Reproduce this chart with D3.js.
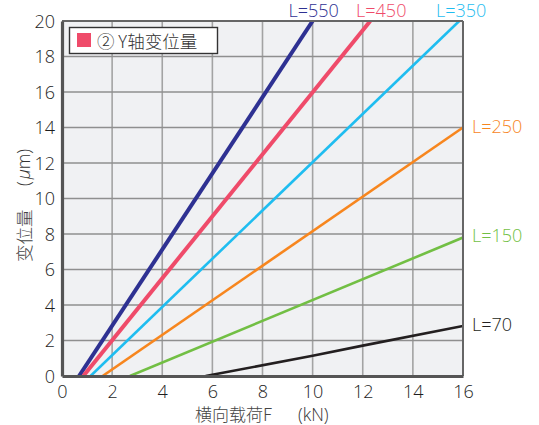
<!DOCTYPE html>
<html>
<head>
<meta charset="utf-8">
<script src="https://cdn.jsdelivr.net/npm/d3@7"></script>
<style>
  html, body { margin: 0; padding: 0; background: #fff; }
  svg { display: block; }
  text { font-family: "Noto Sans CJK SC", "Noto Sans", sans-serif; }
  .num { font-family: "Open Sans", "Noto Sans", sans-serif; font-weight: 300; }
</style>
</head>
<body>
<svg id="chart" width="539" height="425"></svg>
<script>
// Tick values
const xTicks = [0, 2, 4, 6, 8, 10, 12, 14, 16];
const yTicks = [0, 2, 4, 6, 8, 10, 12, 14, 16, 18, 20];

// Series: load F (kN) vs displacement (μm)
const seriesNames = ["L=550", "L=450", "L=350", "L=250", "L=150", "L=70"];
const seriesColors = ["#2e3192", "#ef4b6a", "#1fbdf0", "#f7861e", "#72bf44", "#231f20"];
const seriesWidths = [4, 4, 2.6, 2.6, 2.6, 2.6];
const s550 = [[0.68, 0], [10.0, 20]];
const s450 = [[0.85, 0], [12.3, 20]];
const s350 = [[1.14, 0], [15.85, 20]];
const s250 = [[1.62, 0], [16, 14]];
const s150 = [[2.71, 0], [16, 7.8]];
const s70 = [[5.73, 0], [10, 1.14], [12, 1.71], [16, 2.82]];
const seriesData = [s550, s450, s350, s250, s150, s70];

const legendLabel = "② Y轴变位量";
const xTitle = ["横向载荷F", "(kN)"];
const yTitle = ["变位量", "(", "μ", "m)"];

const svg = d3.select("#chart");
const pL = 62, pR = 463, pT = 21, pB = 376;

const x = d3.scaleLinear().domain([0, 16]).range([pL, pR]);
const y = d3.scaleLinear().domain([0, 20]).range([pB, pT]);

// Plot background
svg.append("rect").attr("x", pL).attr("y", pT)
  .attr("width", pR - pL).attr("height", pB - pT)
  .attr("fill", "#f0f1f3");

// Grid
const grid = svg.append("g");
grid.selectAll(".vg").data(xTicks.slice(1, -1)).join("line")
  .attr("x1", d => x(d)).attr("x2", d => x(d))
  .attr("y1", pT).attr("y2", pB)
  .attr("stroke", "#a3a3a3").attr("stroke-width", 1.6);
grid.selectAll(".hg").data(yTicks.slice(1, -1)).join("line")
  .attr("x1", pL).attr("x2", pR)
  .attr("y1", d => y(d)).attr("y2", d => y(d))
  .attr("stroke", "#8f8f8f").attr("stroke-width", 1.4);

// Series lines
const line = d3.line().x(d => x(d[0])).y(d => y(d[1]));
svg.append("defs").append("clipPath").attr("id", "clip")
  .append("rect").attr("x", pL).attr("y", pT)
  .attr("width", pR - pL).attr("height", pB - pT);
const lines = svg.append("g").attr("clip-path", "url(#clip)");
seriesData.forEach((s, i) => {
  lines.append("path").datum(s)
    .attr("d", line)
    .attr("fill", "none")
    .attr("stroke", seriesColors[i])
    .attr("stroke-width", seriesWidths[i]);
});

// Frame: top/right lighter, left/bottom heavy
svg.append("line").attr("x1", pL).attr("x2", pR).attr("y1", pT).attr("y2", pT)
  .attr("stroke", "#666").attr("stroke-width", 2);
svg.append("line").attr("x1", pR).attr("x2", pR).attr("y1", pT).attr("y2", pB)
  .attr("stroke", "#666").attr("stroke-width", 2);

// Axes
const xAxis = svg.append("g").attr("transform", `translate(0,${pB})`)
  .call(d3.axisBottom(x).tickValues(xTicks).tickSize(0).tickPadding(9).tickFormat(d3.format("d")));
const yAxis = svg.append("g").attr("transform", `translate(${pL},0)`)
  .call(d3.axisLeft(y).tickValues(yTicks).tickSize(0).tickPadding(7).tickFormat(d3.format("d")));
[xAxis, yAxis].forEach(a => {
  a.select(".domain").attr("stroke", "#555").attr("stroke-width", 3.2);
  a.selectAll("text").attr("class", "num").attr("fill", "#1e1e1e").attr("font-size", 18)
    .attr("font-family", null);
});
yAxis.selectAll("text").attr("dy", "0.36em");
xAxis.selectAll("text").attr("dy", "0.71em");

// Series labels, placed next to each line's end
const labelOffsets = [
  { anchor: "middle", dx: 1, dy: -4 },
  { anchor: "middle", dx: 11, dy: -4 },
  { anchor: "middle", dx: 2, dy: -4 },
  { anchor: "start", dx: 9, dy: 5 },
  { anchor: "start", dx: 9, dy: 4 },
  { anchor: "start", dx: 9, dy: 5 }
];
seriesData.forEach((s, i) => {
  const end = s[s.length - 1];
  const o = labelOffsets[i];
  svg.append("text").attr("class", "num")
    .attr("x", x(end[0]) + o.dx).attr("y", y(end[1]) + o.dy)
    .attr("text-anchor", o.anchor)
    .attr("fill", seriesColors[i])
    .attr("font-size", 18)
    .text(seriesNames[i]);
});

// Legend
svg.append("rect").attr("x", 69.5).attr("y", 27.5).attr("width", 148).attr("height", 26)
  .attr("fill", "#fff").attr("stroke", "#333").attr("stroke-width", 1.4);
svg.append("rect").attr("x", 77).attr("y", 33).attr("width", 14).attr("height", 14)
  .attr("fill", seriesColors[1]);
svg.append("text").attr("x", 97).attr("y", 47.5)
  .attr("fill", "#333").attr("font-size", 17.5).attr("font-weight", 300)
  .text(legendLabel);

// Axis titles
svg.append("text").attr("x", 195).attr("y", 421)
  .attr("fill", "#444").attr("font-size", 17).attr("font-weight", 300)
  .text(xTitle[0]);
svg.append("text").attr("class", "num").attr("x", 298).attr("y", 421)
  .attr("fill", "#333").attr("font-size", 17.5)
  .text(xTitle[1]);

const yT = svg.append("g").attr("transform", "translate(31,0) rotate(-90)");
yT.append("text").attr("x", -262).attr("y", 0)
  .attr("fill", "#444").attr("font-size", 17.5).attr("font-weight", 300)
  .text(yTitle[0]);
const unit = yT.append("text").attr("class", "num").attr("x", -186).attr("y", -1)
  .attr("fill", "#333").attr("font-size", 17.5);
unit.append("tspan").text(yTitle[1]);
unit.append("tspan").attr("font-style", "italic").attr("dx", 2).text(yTitle[2]);
unit.append("tspan").text(yTitle[3]);
</script>
</body>
</html>
